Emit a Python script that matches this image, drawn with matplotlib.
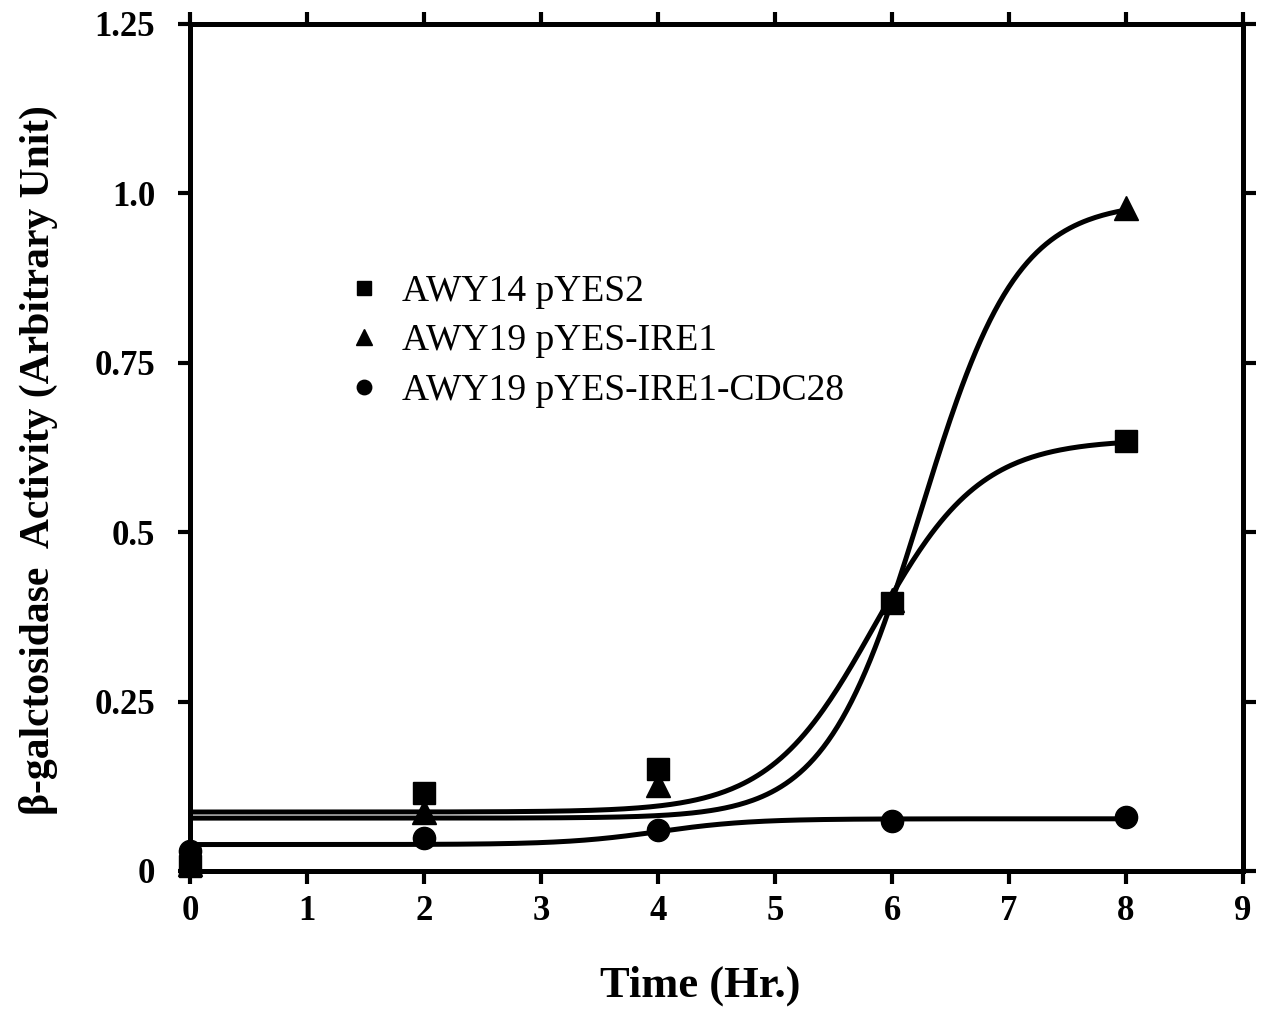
import numpy as np
import matplotlib
matplotlib.use("Agg")
import matplotlib.pyplot as plt

time = [0, 2, 4, 6, 8]
awy14_pyes2 = [0.007, 0.115, 0.150, 0.395, 0.635]
awy19_ire1 = [0.010, 0.087, 0.127, 0.400, 0.978]
awy19_cdc28 = [0.030, 0.049, 0.060, 0.074, 0.080]

labels = ["AWY14 pYES2", "AWY19 pYES-IRE1", "AWY19 pYES-IRE1-CDC28"]
markers = ["s", "^", "o"]

# sigmoid fit parameters (y0, a, x0, b)
fit_awy14 = (0.087, 0.55, 5.85, 0.45)
fit_ire1 = (0.078, 0.91, 6.25, 0.41)
fit_cdc28 = (0.039, 0.038, 4.0, 0.40)

xticks = [0, 1, 2, 3, 4, 5, 6, 7, 8, 9]
yticks = [0, 0.25, 0.5, 0.75, 1.0, 1.25]
yticklabels = ["0", "0.25", "0.5", "0.75", "1.0", "1.25"]


def sigmoid(x, p):
    y0, a, x0, b = p
    return y0 + a / (1 + np.exp(-(x - x0) / b))


plt.rcParams["font.family"] = ["Liberation Serif", "DejaVu Serif"]

fig = plt.figure(figsize=(12.72, 10.15), dpi=100)
ax = fig.add_axes([0.1494, 0.1419, 0.8278, 0.8345])

xs = np.linspace(0, 8, 400)
for fit in [fit_awy14, fit_ire1, fit_cdc28]:
    ax.plot(xs, sigmoid(xs, fit), color="black", lw=3.6, zorder=2)

ms = {"s": 16, "^": 17, "o": 16}
handles = []
for data, m, lab in zip([awy14_pyes2, awy19_ire1, awy19_cdc28], markers, labels):
    h, = ax.plot(time, data, linestyle="none", marker=m, markersize=ms[m],
                 color="black", clip_on=False, zorder=3, label=lab)
    handles.append(h)

ax.set_xlim(0, 9)
ax.set_ylim(0, 1.25)
ax.set_xticks(xticks)
ax.set_xticklabels([str(t) for t in xticks])
ax.set_yticks(yticks)
ax.set_yticklabels(yticklabels)

for s in ax.spines.values():
    s.set_linewidth(3.6)

ax.tick_params(axis="both", which="major", direction="out", length=9, width=3,
               labelsize=25, top=True, right=True, labeltop=False, labelright=False)
for lab in ax.get_xticklabels() + ax.get_yticklabels():
    lab.set_fontweight("bold")
ax.tick_params(axis="x", pad=8)
ax.tick_params(axis="y", pad=16)

ax.set_xlabel("Time (Hr.)", fontsize=32, fontweight="bold")
ax.set_ylabel("β-galctosidase  Activity (Arbitrary Unit)", fontsize=30,
              fontweight="bold")
ax.xaxis.set_label_coords(0.485, -0.112)
ax.yaxis.set_label_coords(-0.125, 0.485)

leg = ax.legend(handles=handles, labels=labels, loc="upper left",
                bbox_to_anchor=(0.137, 0.722), frameon=False, fontsize=27,
                markerscale=0.65, handlelength=0.8, handletextpad=0.6,
                labelspacing=0.4, borderaxespad=0)

fig.savefig("out.png", dpi=100)
